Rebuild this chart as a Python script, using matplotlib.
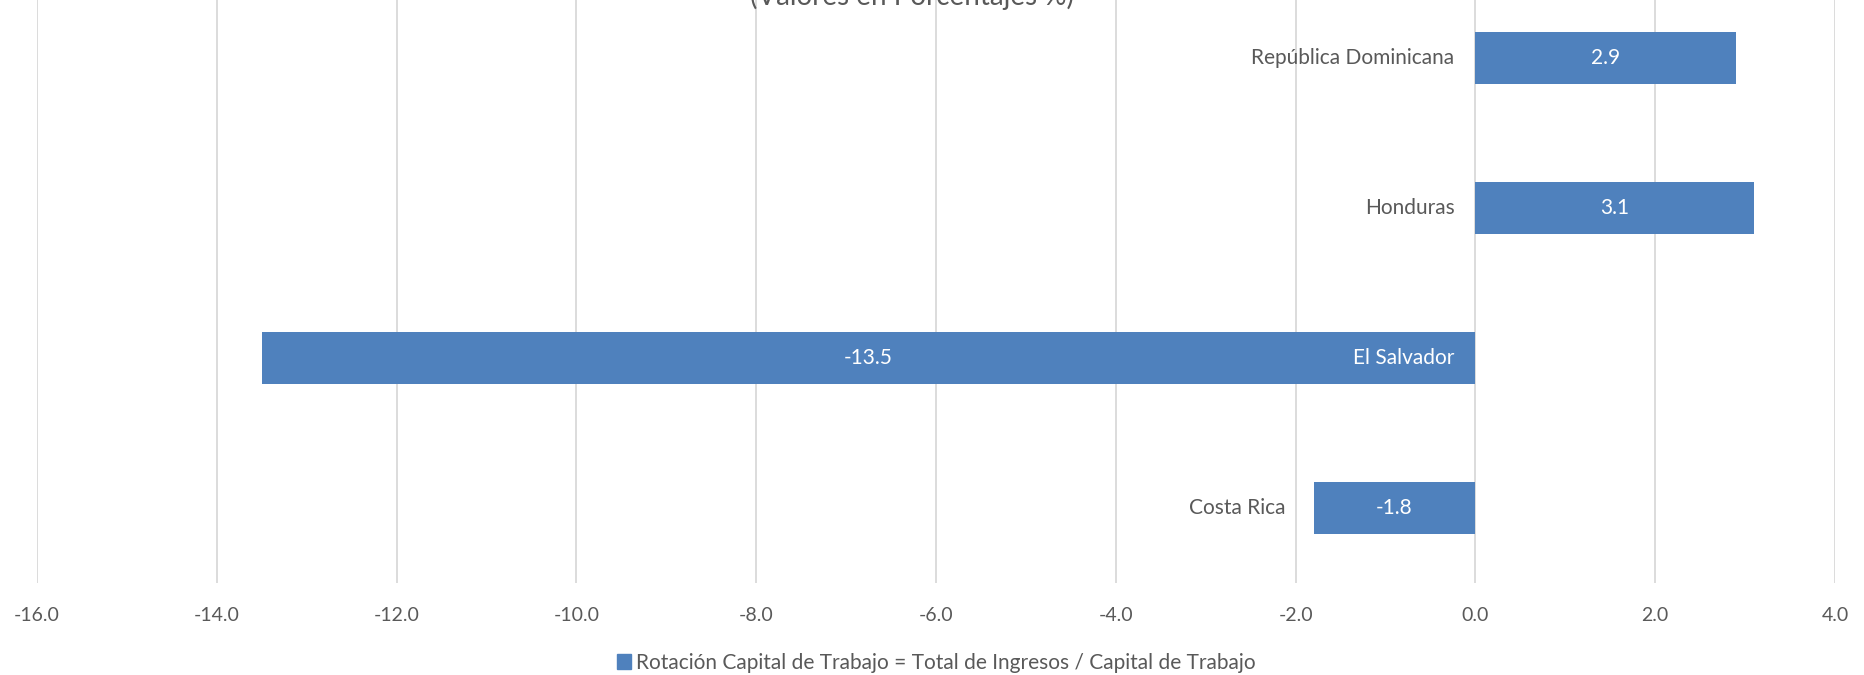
import matplotlib
matplotlib.use("Agg")
import matplotlib.pyplot as plt
from matplotlib.transforms import offset_copy
from matplotlib.patches import Patch

countries = ["Costa Rica", "El Salvador", "Honduras", "República Dominicana"]
values = [-1.8, -13.5, 3.1, 2.9]
xticks = [-16.0, -14.0, -12.0, -10.0, -8.0, -6.0, -4.0, -2.0, 0.0, 2.0, 4.0]
series_name = "Rotación Capital de Trabajo = Total de Ingresos / Capital de Trabajo"
title = "(Valores en Porcentajes %)"

plt.rcParams['font.family'] = ['Lato', 'DejaVu Sans']
BAR = '#4F81BD'
GRAY = '#595959'
W, H = 1865, 675
fig = plt.figure(figsize=(W / 100, H / 100), dpi=100)
ax = fig.add_axes([37 / W, 1 - 583 / H, 1798 / W, 600 / H])

y = list(range(len(countries)))
ax.barh(y, values, height=0.35, color=BAR, zorder=3)
ax.set_xlim(-16, 4)
ax.set_ylim(-0.5, 3.5)
ax.set_xticks(xticks)
ax.set_xticklabels([f"{v:.1f}" for v in xticks], color=GRAY, fontsize=14)
ax.tick_params(axis='x', length=0, pad=17)
ax.set_yticks([])
ax.grid(axis='x', color='#D9D9D9', linewidth=1.3, zorder=0)
for s in ax.spines.values():
    s.set_visible(False)

lab_tr = offset_copy(ax.transData, fig=fig, x=-15, y=0, units='points')
for yi, (c, v) in enumerate(zip(countries, values)):
    on_bar = v < -5
    anchor = 0 if (v >= 0 or on_bar) else v
    tr = lab_tr if not (v < 0 and not on_bar) else offset_copy(ax.transData, fig=fig, x=-20, y=0, units='points')
    col = 'white' if on_bar else GRAY
    ax.text(anchor, yi, c, transform=tr, ha='right', va='center', fontsize=15, color=col, zorder=5)
    ax.text(v / 2, yi, f"{v:.1f}", ha='center', va='center', fontsize=15, color='white', zorder=5)

fig.text(0.489, 1 - 5 / H, title, ha='center', va='baseline', fontsize=20, color=GRAY)
fig.legend(handles=[Patch(color=BAR)], labels=[series_name], loc='center',
           bbox_to_anchor=(936 / W, 1 - 663 / H), frameon=False, fontsize=15,
           handlelength=0.7, handleheight=0.7, handletextpad=0.2, labelcolor=GRAY)

fig.savefig("out.png", dpi=100)
